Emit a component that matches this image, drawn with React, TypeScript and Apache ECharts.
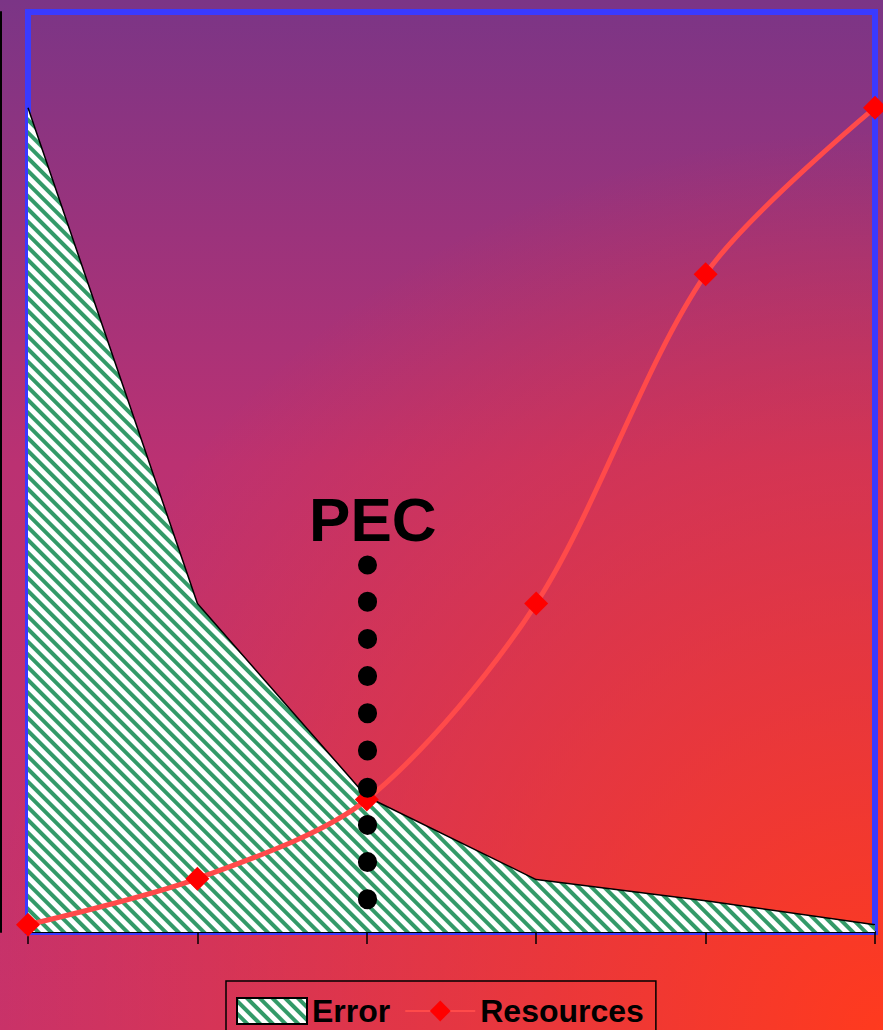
import React, { useEffect, useRef } from 'react';
import * as echarts from 'echarts';

const categories = ['1', '2', '3', '4', '5', '6'];
const errorValues = [89.6, 35.7, 14.7, 5.7, 3.4, 0.8];
const resourceValues = [0.8, 5.8, 14.4, 35.7, 71.5, 89.6];
const seriesNames = ['Error', 'Resources'];
const pecCategory = '3';
const pecRange = [3.5, 39.9];
const pecLabel = 'PEC';

const FONT = '"Liberation Sans", Arial, sans-serif';

const hatchDecal = {
  symbol: 'rect',
  symbolSize: 1,
  color: '#339a68',
  dashArrayX: [1, 0],
  dashArrayY: [3.6, 5.0],
  rotation: Math.PI / 4,
};

export default function App() {
  const ref = useRef<HTMLDivElement>(null);
  useEffect(() => {
    if (!ref.current) return;
    const chart = echarts.init(ref.current, undefined, { renderer: 'svg' });
    const option: any = {
      animation: false,
      backgroundColor: '#a03380',
      graphic: [
        {
          type: 'rect',
          z: -100,
          silent: true,
          shape: { x: 0, y: 0, width: 883, height: 1030 },
          style: {
            fill: new echarts.graphic.LinearGradient(0, 0, 0, 1, [
              { offset: 0, color: '#7b3586' },
              { offset: 0.45, color: '#bb3172' },
              { offset: 1, color: '#c8326a' },
            ]),
          },
        },
        {
          type: 'rect',
          z: -99,
          silent: true,
          shape: { x: 0, y: 0, width: 883, height: 1030 },
          style: {
            fill: new echarts.graphic.RadialGradient(
              883,
              1030,
              900,
              [
                { offset: 0, color: 'rgba(255,58,30,1)' },
                { offset: 1, color: 'rgba(255,58,30,0)' },
              ],
              true
            ),
          },
        },
      ],
      grid: {
        left: 28,
        right: 8,
        top: 12,
        bottom: 98,
        show: true,
        borderColor: '#3a3aff',
        borderWidth: 6,
        backgroundColor: 'transparent',
      },
      legend: {
        left: 226,
        top: 981,
        orient: 'horizontal',
        itemWidth: 70,
        itemHeight: 26,
        itemGap: 14,
        padding: [14, 12, 16, 10],
        borderColor: '#000',
        borderWidth: 1.5,
        selectedMode: false,
        textStyle: { fontSize: 32, fontWeight: 'bold', color: '#000', fontFamily: FONT },
        data: [
          {
            name: seriesNames[0],
            icon: 'rect',
            itemStyle: {
              color: '#fff',
              decal: hatchDecal,
              borderColor: '#000',
              borderWidth: 2,
            },
          },
          { name: seriesNames[1] },
        ],
      },
      xAxis: {
        type: 'category',
        data: categories,
        boundaryGap: false,
        axisLine: { lineStyle: { color: '#000', width: 2 } },
        axisTick: { show: true, length: 12, lineStyle: { color: '#000', width: 1.5 } },
        axisLabel: { show: false },
        splitLine: { show: false },
      },
      yAxis: {
        type: 'value',
        min: 0,
        max: 100,
        offset: 27,
        axisLine: { show: true, lineStyle: { color: '#000', width: 2 } },
        axisTick: { show: false },
        axisLabel: { show: false },
        splitLine: { show: false },
      },
      series: [
        {
          name: seriesNames[0],
          type: 'line',
          data: errorValues,
          symbol: 'none',
          z: 2,
          lineStyle: { color: '#000', width: 1.5 },
          itemStyle: { color: '#fff', decal: hatchDecal },
          areaStyle: { color: '#fff', opacity: 1 },
          emphasis: { disabled: true },
        },
        {
          name: seriesNames[1],
          type: 'line',
          data: resourceValues,
          smooth: 0.3,
          symbol: 'diamond',
          symbolSize: 24,
          z: 3,
          lineStyle: { color: '#ff4a4a', width: 5 },
          itemStyle: { color: '#ff0000' },
          emphasis: { disabled: true },
          markLine: {
            silent: true,
            symbol: 'none',
            animation: false,
            lineStyle: { color: '#000', width: 19, type: [1, 36.2], cap: 'round' },
            label: {
              show: true,
              position: 'end',
              formatter: pecLabel,
              color: '#000',
              fontSize: 62,
              fontWeight: 'bold',
              fontFamily: FONT,
              distance: 14,
              offset: [6, 0],
            },
            emphasis: { disabled: true },
            data: [[{ coord: [pecCategory, pecRange[0]] }, { coord: [pecCategory, pecRange[1]] }]],
          },
        },
      ],
    };
    chart.setOption(option);
    return () => chart.dispose();
  }, []);
  return (
    <div
      ref={ref}
      style={{ position: 'fixed', left: 0, top: 0, width: 883, height: 1030 }}
    />
  );
}
